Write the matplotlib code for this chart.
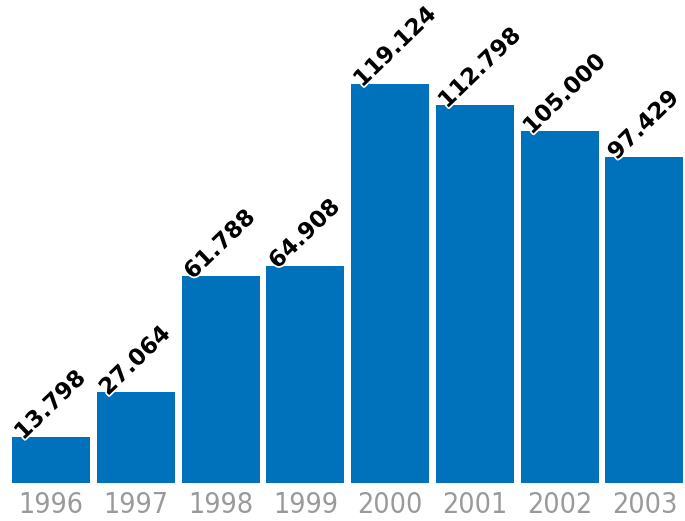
import matplotlib.pyplot as plt
import matplotlib.patheffects as pe
import numpy as np

years = ['1996', '1997', '1998', '1999', '2000', '2001', '2002', '2003']
values = [13.798, 27.064, 61.788, 64.908, 119.124, 112.798, 105.000, 97.429]
labels = ['13.798', '27.064', '61.788', '64.908', '119.124', '112.798', '105.000', '97.429']

fig = plt.figure(figsize=(6.85, 5.21), dpi=100)
ax = fig.add_axes([0, 38 / 521, 1, 483 / 521])

x = np.arange(len(years))
ax.bar(x, values, width=0.92, color='#0071bb')

for i, (v, lab) in enumerate(zip(values, labels)):
    ax.text(i - 0.33, v - 1.2, lab, rotation=44, rotation_mode='anchor',
            ha='left', va='baseline', fontsize=16.5, fontweight='bold', color='black',
            path_effects=[pe.withStroke(linewidth=2.5, foreground='white')])

ax.set_xlim(-0.602, 7.48)
ax.set_ylim(0, 144.2)
ax.set_xticks(x)
ax.set_xticklabels(years, fontsize=20.5, color='#9a9a9a', fontstretch='condensed',
                   fontweight='light', family=['DejaVu Sans'])
ax.tick_params(axis='x', length=0, pad=6)
ax.set_yticks([])
for s in ax.spines.values():
    s.set_visible(False)

fig.savefig('out.png', dpi=100)
